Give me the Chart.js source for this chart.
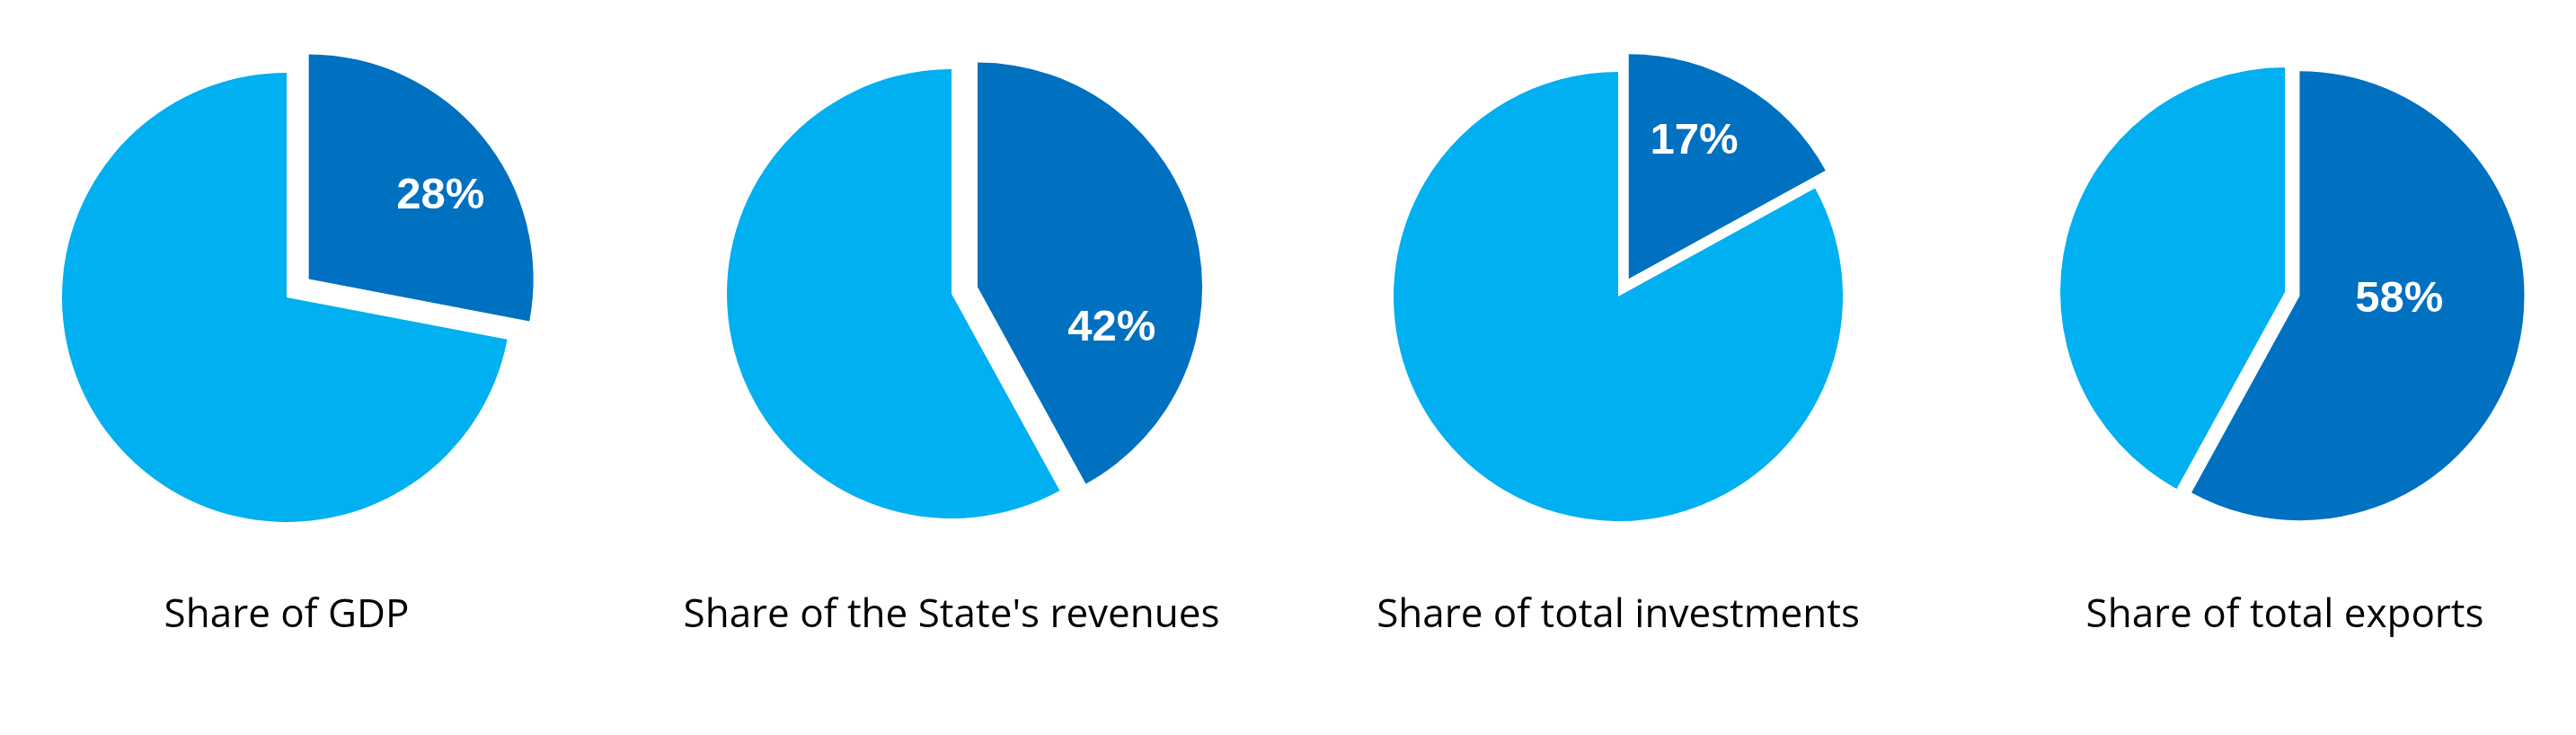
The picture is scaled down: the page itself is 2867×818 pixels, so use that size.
<!DOCTYPE html>
<html>
<head>
<meta charset="utf-8">
<script src="https://cdn.jsdelivr.net/npm/chart.js@4.4.0/dist/chart.umd.min.js"></script>
<style>
  html, body { margin: 0; padding: 0; background: #fff; overflow: hidden; }
  #wrap { position: relative; width: 2867px; height: 818px; }
  .pie { position: absolute; top: 0; }
</style>
</head>
<body>
<div id="wrap"></div>
<script>
// ---- data ----
const categories = ["Share of GDP", "Share of the State's revenues", "Share of total investments", "Share of total exports"];
const shareValues = [28, 42, 17, 58];
const restValues = [72, 58, 83, 42];

// ---- look ----
const shareColor = "#0070C0";
const restColor = "#00B0F0";
const pieCenters = [[319, 331], [1059, 327], [1801, 330], [2543, 325]];
const explodeBy = [32, 30, 23, 17];            // gap of the share slice
const labelSpots = [[58, 173], [107, 156], [25.5, 169], [92, 111]]; // angle from top, distance from apex
const RADIUS = 250;
const CANVAS_W = 700, CANVAS_H = 818;
const CAPTION_Y = 698;

// pull slices out along their middle angle
const explode = {
  id: "explode",
  afterDatasetUpdate(chart, args, opts) {
    chart.getDatasetMeta(0).data.forEach((arc, i) => {
      const d = (opts.by || [])[i] || 0;
      const mid = (arc.startAngle + arc.endAngle) / 2;
      arc.x += Math.cos(mid) * d;
      arc.y += Math.sin(mid) * d;
    });
  }
};

// percentage label + caption under each pie
const pieText = {
  id: "pieText",
  afterDatasetsDraw(chart, args, opts) {
    const ctx = chart.ctx;
    const arc = chart.getDatasetMeta(0).data[0];
    const a = opts.angle * Math.PI / 180;
    ctx.save();
    ctx.fillStyle = "#fff";
    ctx.font = "bold 49px 'Liberation Sans', Arial, sans-serif";
    ctx.textAlign = "center";
    ctx.textBaseline = "middle";
    ctx.fillText(opts.text, arc.x + Math.sin(a) * opts.dist, arc.y - Math.cos(a) * opts.dist);

    const area = chart.chartArea;
    ctx.fillStyle = "#000";
    ctx.font = "44px 'Open Sans', sans-serif";
    ctx.textBaseline = "alphabetic";
    ctx.fillText(opts.caption, (area.left + area.right) / 2, CAPTION_Y);
    ctx.restore();
  }
};

const wrap = document.getElementById("wrap");

categories.forEach((cat, i) => {
  const [cx, cy] = pieCenters[i];
  const canvas = document.createElement("canvas");
  canvas.className = "pie";
  canvas.width = CANVAS_W;
  canvas.height = CANVAS_H;
  canvas.style.left = (cx - CANVAS_W / 2) + "px";
  wrap.appendChild(canvas);

  new Chart(canvas.getContext("2d"), {
    type: "pie",
    data: {
      labels: [cat, "Other"],
      datasets: [{
        data: [shareValues[i], restValues[i]],
        backgroundColor: [shareColor, restColor],
        borderWidth: 0
      }]
    },
    options: {
      responsive: false,
      animation: false,
      events: [],
      radius: RADIUS,
      layout: { padding: { top: 0, bottom: CANVAS_H - 2 * cy, left: 0, right: 0 } },
      plugins: {
        legend: { display: false },
        tooltip: { enabled: false },
        explode: { by: [explodeBy[i], 0] },
        pieText: {
          text: shareValues[i] + "%",
          angle: labelSpots[i][0],
          dist: labelSpots[i][1],
          caption: cat
        }
      }
    },
    plugins: [explode, pieText]
  });
});
</script>
</body>
</html>
